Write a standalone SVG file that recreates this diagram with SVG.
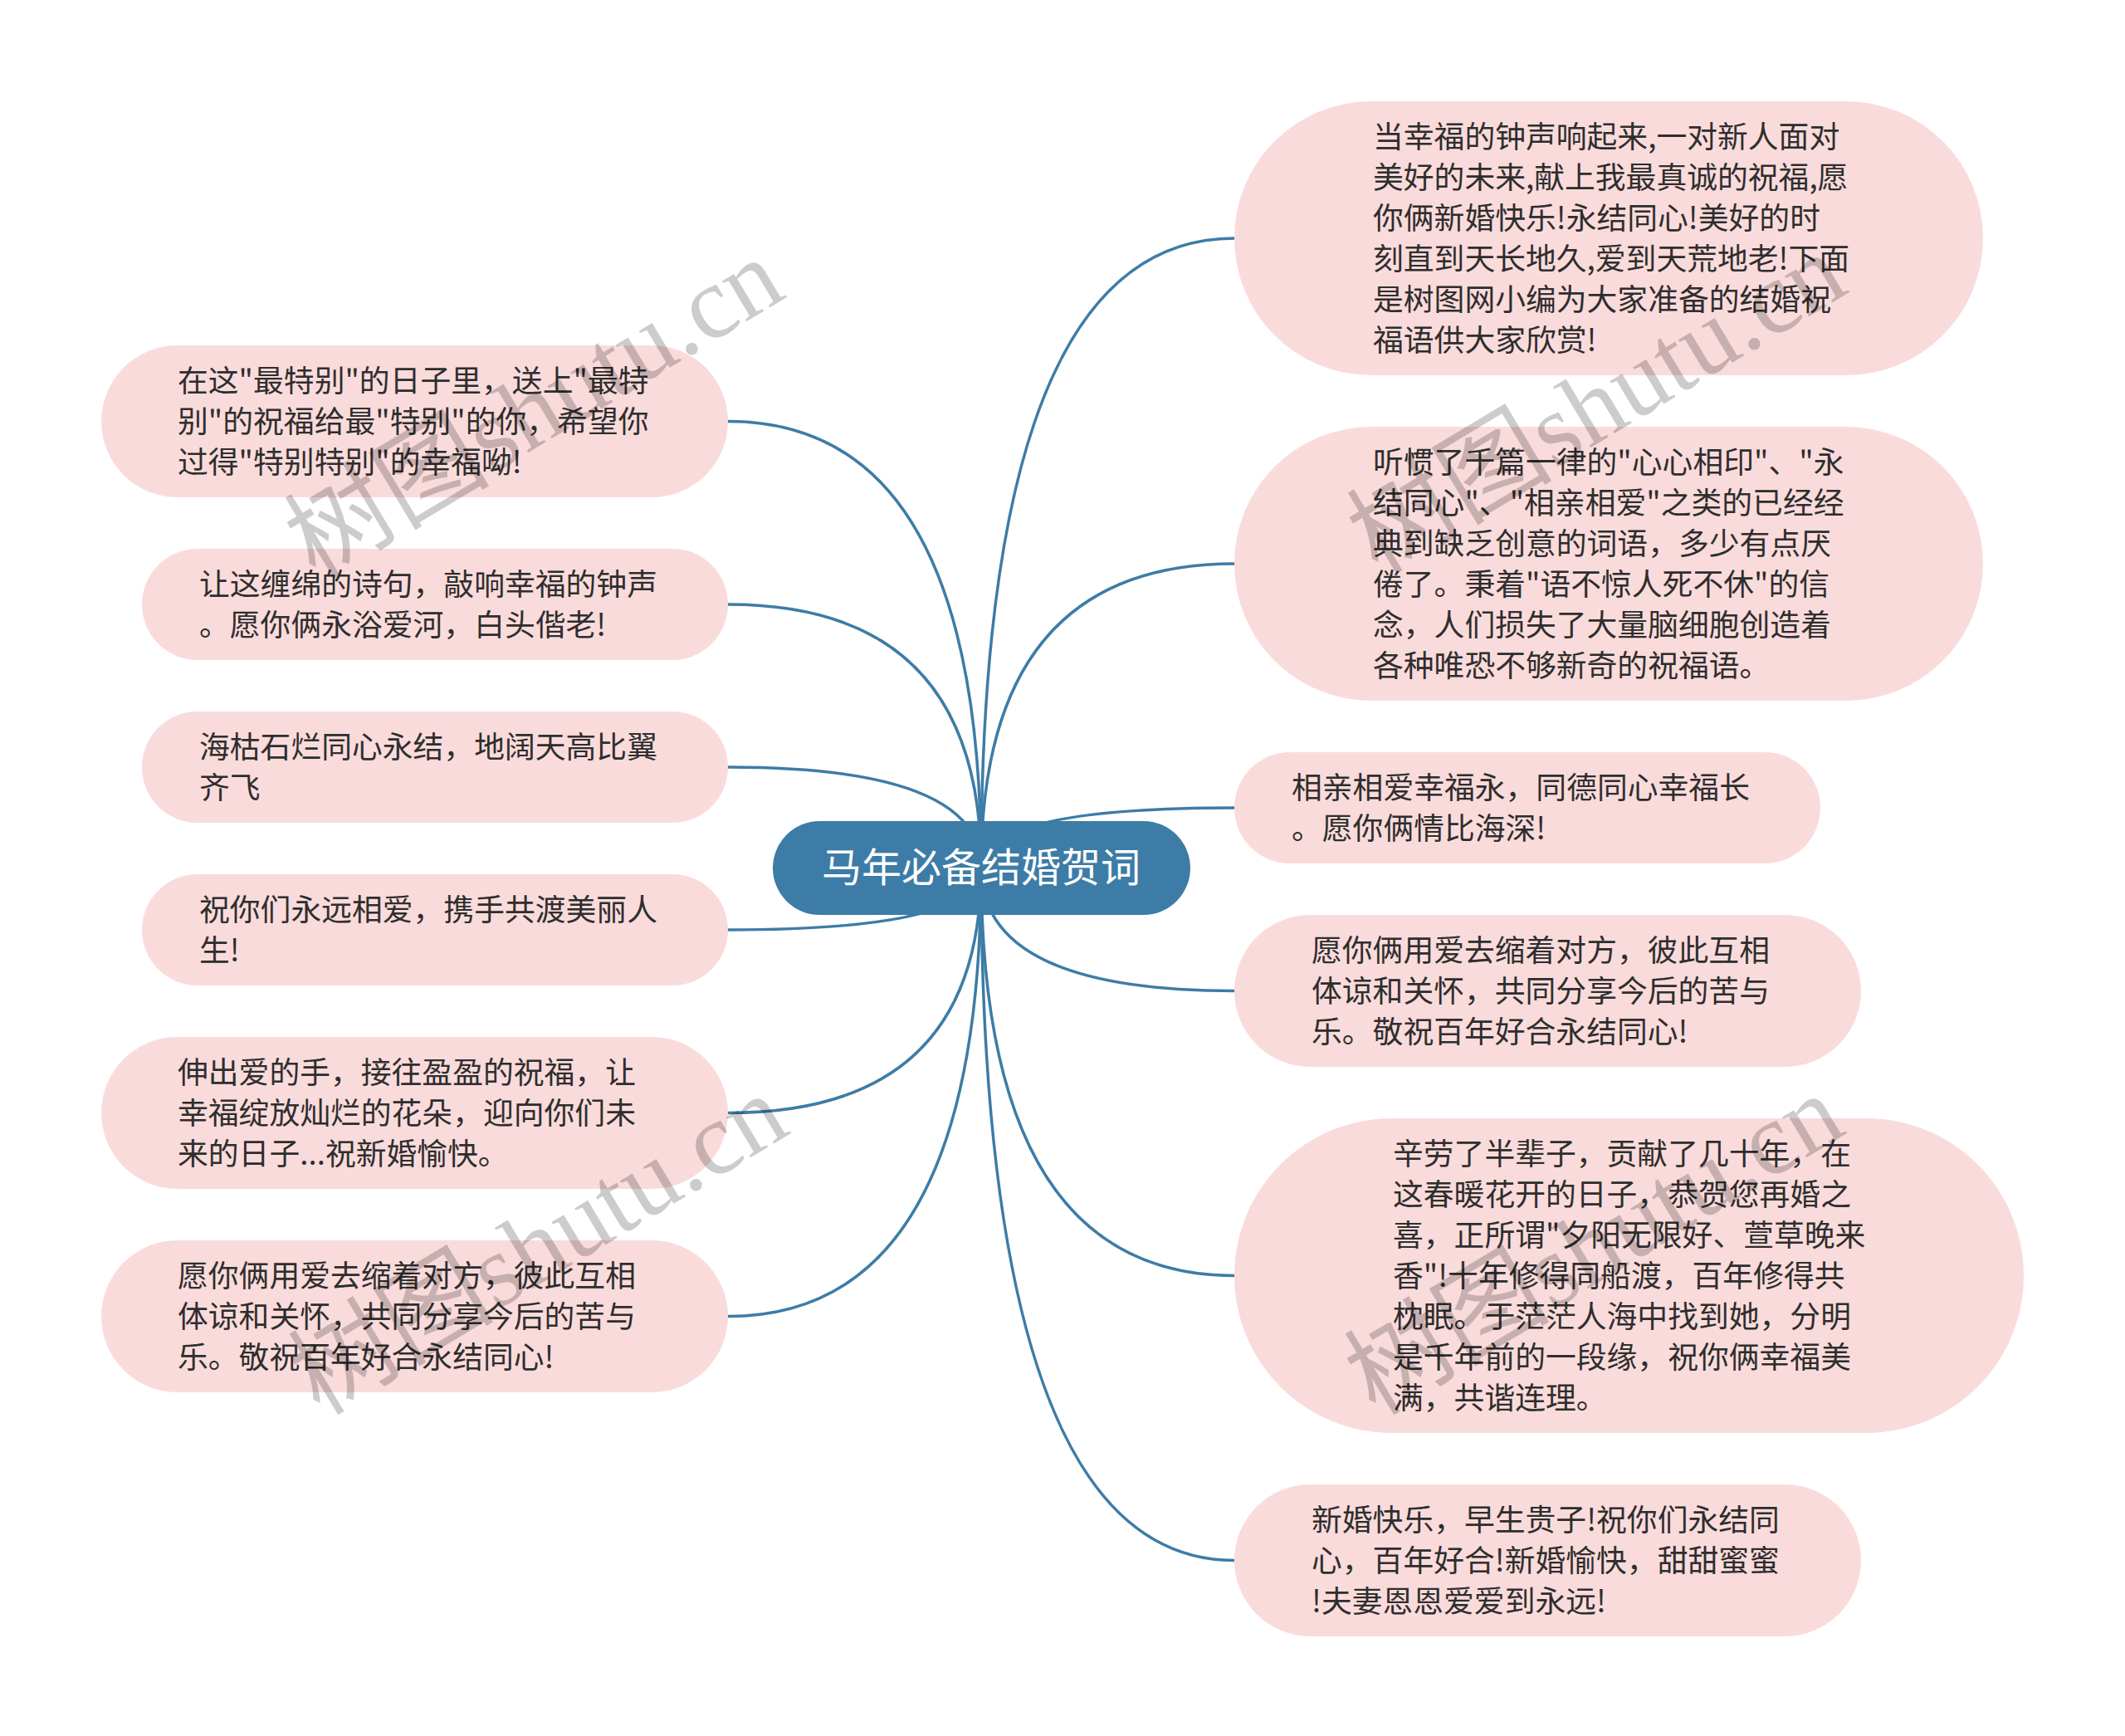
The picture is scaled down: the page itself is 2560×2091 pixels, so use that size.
<svg xmlns="http://www.w3.org/2000/svg" width="2560" height="2091" viewBox="0 0 2560 2091">
<style>
.bg{fill:#ffffff}
.edge{fill:none;stroke:#3d7ca6;stroke-width:3.5}
.leaf{fill:#fadbdb}
.root{fill:#3d7ca6}
.t{font-family:"Noto Sans CJK SC","Noto Sans",sans-serif;font-size:36.8px;fill:#2e2e2e}
.rt{font-family:"Noto Sans CJK SC","Noto Sans",sans-serif;font-size:48px;fill:#ffffff;text-anchor:middle}
.wm{font-family:"Liberation Serif","Noto Sans CJK SC",serif;font-size:124px;fill:#000000;fill-opacity:0.2;text-anchor:middle}
</style>
<rect class="bg" x="0" y="0" width="2560" height="2091"/>
<g id="connectors">
<path class="edge" d="M1182 1045 Q1182 507.5 877 507.5"/>
<path class="edge" d="M1182 1045 Q1182 728 877 728"/>
<path class="edge" d="M1182 1045 Q1182 924 877 924"/>
<path class="edge" d="M1182 1045 Q1182 1120 877 1120"/>
<path class="edge" d="M1182 1045 Q1182 1340.5 877 1340.5"/>
<path class="edge" d="M1182 1045 Q1182 1585.5 877 1585.5"/>
<path class="edge" d="M1182 1045 Q1182 287 1487 287"/>
<path class="edge" d="M1182 1045 Q1182 679 1487 679"/>
<path class="edge" d="M1182 1045 Q1182 973 1487 973"/>
<path class="edge" d="M1182 1045 Q1182 1193.5 1487 1193.5"/>
<path class="edge" d="M1182 1045 Q1182 1536.5 1487 1536.5"/>
<path class="edge" d="M1182 1045 Q1182 1879.5 1487 1879.5"/>
</g>
<g id="root">
<rect class="root" x="931" y="989" width="503" height="113" rx="56.5"/>
<text class="rt" x="1182" y="1062">马年必备结婚贺词</text>
</g>
<g id="L1">
<rect class="leaf" x="122" y="416" width="755" height="183" rx="91.5"/>
<text class="t"><tspan x="214" y="471.5">在这"最特别"的日子里，送上"最特</tspan><tspan x="214" y="520.5">别"的祝福给最"特别"的你，希望你</tspan><tspan x="214" y="569.5">过得"特别特别"的幸福呦!</tspan></text>
</g>
<g id="L2">
<rect class="leaf" x="171" y="661" width="706" height="134" rx="67"/>
<text class="t"><tspan x="240" y="716.5">让这缠绵的诗句，敲响幸福的钟声</tspan><tspan x="240" y="765.5">。愿你俩永浴爱河，白头偕老!</tspan></text>
</g>
<g id="L3">
<rect class="leaf" x="171" y="857" width="706" height="134" rx="67"/>
<text class="t"><tspan x="240" y="912.5">海枯石烂同心永结，地阔天高比翼</tspan><tspan x="240" y="961.5">齐飞</tspan></text>
</g>
<g id="L4">
<rect class="leaf" x="171" y="1053" width="706" height="134" rx="67"/>
<text class="t"><tspan x="240" y="1108.5">祝你们永远相爱，携手共渡美丽人</tspan><tspan x="240" y="1157.5">生!</tspan></text>
</g>
<g id="L5">
<rect class="leaf" x="122" y="1249" width="755" height="183" rx="91.5"/>
<text class="t"><tspan x="214" y="1304.5">伸出爱的手，接往盈盈的祝福，让</tspan><tspan x="214" y="1353.5">幸福绽放灿烂的花朵，迎向你们未</tspan><tspan x="214" y="1402.5">来的日子...祝新婚愉快。</tspan></text>
</g>
<g id="L6">
<rect class="leaf" x="122" y="1494" width="755" height="183" rx="91.5"/>
<text class="t"><tspan x="214" y="1549.5">愿你俩用爱去缩着对方，彼此互相</tspan><tspan x="214" y="1598.5">体谅和关怀，共同分享今后的苦与</tspan><tspan x="214" y="1647.5">乐。敬祝百年好合永结同心!</tspan></text>
</g>
<g id="R1">
<rect class="leaf" x="1487" y="122" width="902" height="330" rx="165"/>
<text class="t"><tspan x="1654" y="177.5">当幸福的钟声响起来,一对新人面对</tspan><tspan x="1654" y="226.5">美好的未来,献上我最真诚的祝福,愿</tspan><tspan x="1654" y="275.5">你俩新婚快乐!永结同心!美好的时</tspan><tspan x="1654" y="324.5">刻直到天长地久,爱到天荒地老!下面</tspan><tspan x="1654" y="373.5">是树图网小编为大家准备的结婚祝</tspan><tspan x="1654" y="422.5">福语供大家欣赏!</tspan></text>
</g>
<g id="R2">
<rect class="leaf" x="1487" y="514" width="902" height="330" rx="165"/>
<text class="t"><tspan x="1654" y="569.5">听惯了千篇一律的"心心相印"、"永</tspan><tspan x="1654" y="618.5">结同心"、"相亲相爱"之类的已经经</tspan><tspan x="1654" y="667.5">典到缺乏创意的词语，多少有点厌</tspan><tspan x="1654" y="716.5">倦了。秉着"语不惊人死不休"的信</tspan><tspan x="1654" y="765.5">念，人们损失了大量脑细胞创造着</tspan><tspan x="1654" y="814.5">各种唯恐不够新奇的祝福语。</tspan></text>
</g>
<g id="R3">
<rect class="leaf" x="1487" y="906" width="706" height="134" rx="67"/>
<text class="t"><tspan x="1556" y="961.5">相亲相爱幸福永，同德同心幸福长</tspan><tspan x="1556" y="1010.5">。愿你俩情比海深!</tspan></text>
</g>
<g id="R4">
<rect class="leaf" x="1487" y="1102" width="755" height="183" rx="91.5"/>
<text class="t"><tspan x="1580" y="1157.5">愿你俩用爱去缩着对方，彼此互相</tspan><tspan x="1580" y="1206.5">体谅和关怀，共同分享今后的苦与</tspan><tspan x="1580" y="1255.5">乐。敬祝百年好合永结同心!</tspan></text>
</g>
<g id="R5">
<rect class="leaf" x="1487" y="1347" width="951" height="379" rx="189.5"/>
<text class="t"><tspan x="1678" y="1402.5">辛劳了半辈子，贡献了几十年，在</tspan><tspan x="1678" y="1451.5">这春暖花开的日子，恭贺您再婚之</tspan><tspan x="1678" y="1500.5">喜，正所谓"夕阳无限好、萱草晚来</tspan><tspan x="1678" y="1549.5">香"!十年修得同船渡，百年修得共</tspan><tspan x="1678" y="1598.5">枕眠。于茫茫人海中找到她，分明</tspan><tspan x="1678" y="1647.5">是千年前的一段缘，祝你俩幸福美</tspan><tspan x="1678" y="1696.5">满，共谐连理。</tspan></text>
</g>
<g id="R6">
<rect class="leaf" x="1487" y="1788" width="755" height="183" rx="91.5"/>
<text class="t"><tspan x="1580" y="1843.5">新婚快乐，早生贵子!祝你们永结同</tspan><tspan x="1580" y="1892.5">心，百年好合!新婚愉快，甜甜蜜蜜</tspan><tspan x="1580" y="1941.5">!夫妻恩恩爱爱到永远!</tspan></text>
</g>
<g id="watermarks">
<text class="wm" transform="translate(665,528) rotate(-31)">树图shutu.cn</text>
<text class="wm" transform="translate(1945,522) rotate(-31)">树图shutu.cn</text>
<text class="wm" transform="translate(670,1535) rotate(-31)">树图shutu.cn</text>
<text class="wm" transform="translate(1942,1535) rotate(-31)">树图shutu.cn</text>
</g>
</svg>
